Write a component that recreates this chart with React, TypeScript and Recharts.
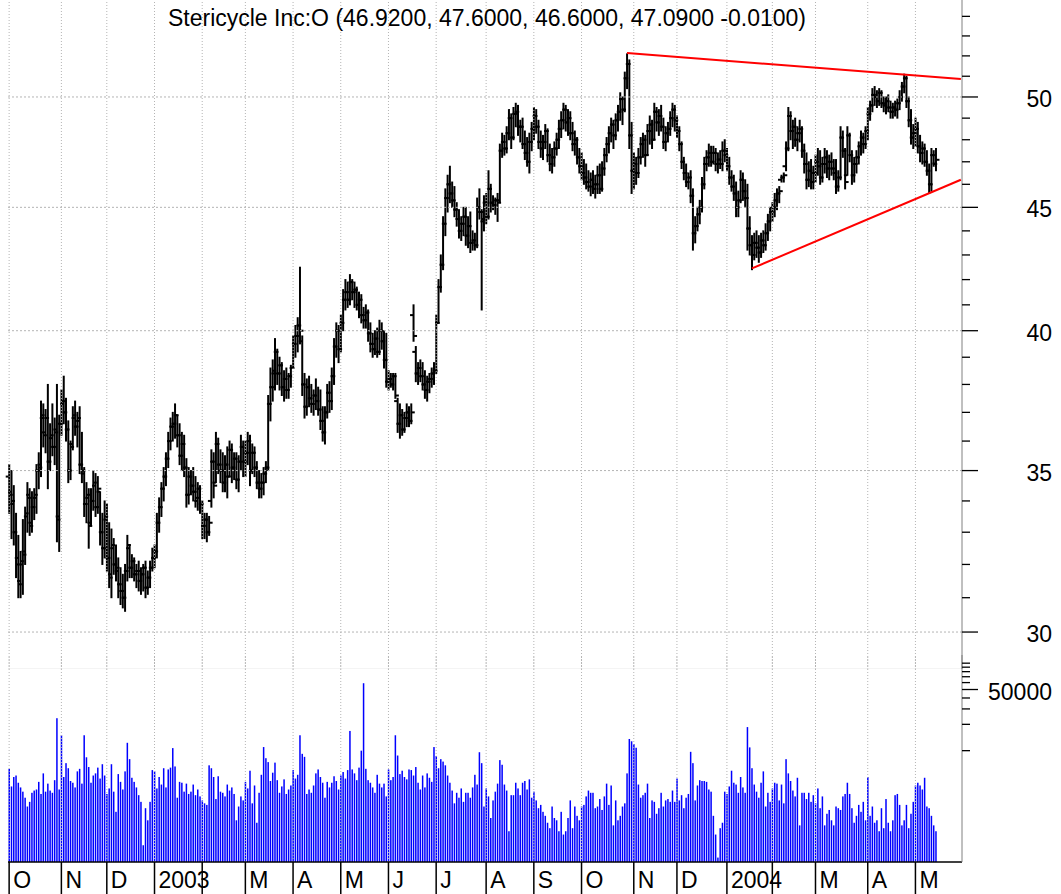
import React from "react";
import { ComposedChart, Bar, Line, XAxis, YAxis, ReferenceLine } from "recharts";

const FONT = '"Liberation Sans", Arial, Helvetica, sans-serif';

// index of the first trading day of every month, and the label under it
const monthStarts = [0, 23, 43, 64, 85, 104, 125, 146, 167, 188, 210, 231, 252, 275, 294, 316, 336, 355, 378, 399];
const monthLabels = ["O", "N", "D", "2003", "", "M", "A", "M", "J", "J", "A", "S", "O", "N", "D", "2004", "", "M", "A", "M"];

const priceTicks = [30, 31, 32, 33, 34, 35, 36, 37, 38, 39, 40, 41, 42, 43, 44, 45, 46, 47, 48, 49, 50, 51, 52, 53, 54];
const priceGrid = [30, 35, 40, 45, 50];
const volumeTicks = [10000, 20000, 30000, 40000, 50000, 60000, 70000, 80000, 90000, 100000];

// daily bars, Oct 2002 .. May 2004 (one line per month)
const opens = [
  34.8, 34.3, 33.9, 33.0, 32.2, 31.5, 32.0, 32.4, 33.5, 34.2, 33.3, 33.8, 34.1, 35.0, 35.2, 36.8, 36.3, 36.8, 35.3, 36.1, 35.8, 36.4, 33.5,
  36.6, 37.3, 37.0, 36.4, 35.0, 35.9, 36.8, 36.5, 36.7, 35.2, 34.9, 33.9, 34.1, 33.3, 34.0, 34.5, 33.8, 34.3, 33.0, 32.5,
  33.4, 32.2, 31.7, 32.5, 32.0, 31.8, 31.4, 31.2, 31.0, 31.8, 32.5, 31.9, 32.1, 31.7, 31.8, 31.5, 31.7, 31.9, 31.3, 31.6, 31.9,
  32.2, 32.4, 33.3, 33.8, 34.4, 34.8, 35.4, 36.0, 36.5, 36.6, 36.9, 36.2, 35.5, 35.9, 35.1, 34.2, 34.8, 34.5, 34.3, 34.0, 34.4,
  33.9, 33.2, 33.4, 33.0, 34.0, 35.3, 34.6, 35.9, 35.2, 35.0, 34.6, 35.2, 34.8, 35.7, 35.1, 35.4, 34.7, 35.3, 35.8,
  35.3, 35.6, 36.0, 35.0, 35.6, 35.1, 34.6, 34.4, 34.6, 34.9, 35.1, 37.3, 37.9, 38.4, 39.2, 38.4, 38.7, 37.9, 38.2, 37.8, 38.3,
  38.6, 39.5, 39.8, 40.2, 39.6, 38.0, 37.2, 37.9, 37.5, 37.3, 37.6, 37.4, 37.1, 36.7, 36.3, 37.0, 37.7, 37.4, 38.3, 39.4, 40.0,
  39.3, 40.3, 41.2, 41.5, 41.2, 41.9, 41.5, 41.6, 41.0, 41.2, 40.6, 40.4, 40.7, 39.9, 39.5, 39.3, 39.7, 39.2, 40.0, 39.6, 38.9,
  38.1, 38.2, 38.0, 38.3, 37.4, 36.6, 36.9, 36.4, 36.8, 37.0, 36.7, 40.6, 39.2, 38.4, 38.6, 38.3, 38.0, 37.8, 38.1, 38.2, 38.4,
  38.5, 40.3, 41.7, 42.6, 44.3, 45.4, 46.0, 45.6, 45.3, 44.9, 44.5, 44.0, 44.3, 44.6, 43.8, 44.2, 43.5, 43.6, 43.4, 45.0, 44.8, 44.4,
  45.2, 44.6, 45.8, 45.2, 45.1, 45.3, 45.3, 47.5, 47.9, 47.6, 48.3, 49.0, 48.1, 49.2, 49.3, 48.6, 48.6, 47.8, 47.4, 47.0, 47.9,
  48.5, 49.1, 48.6, 47.9, 47.6, 47.9, 48.4, 47.3, 46.9, 47.2, 47.6, 48.0, 48.5, 48.9, 49.4, 48.8, 49.0, 48.3, 47.8, 48.0, 47.2,
  46.8, 46.5, 46.3, 46.1, 45.9, 46.2, 45.8, 46.0, 46.4, 45.8, 46.7, 47.3, 47.8, 48.3, 48.7, 48.2, 48.9, 49.3, 49.9, 49.4, 50.9, 51.6, 48.2,
  46.6, 46.9, 46.5, 47.2, 47.8, 48.0, 47.3, 48.4, 48.7, 48.0, 49.3, 48.8, 49.1, 48.6, 47.9, 48.3, 48.5, 49.0, 49.4,
  48.9, 48.4, 47.8, 47.0, 46.5, 46.1, 46.3, 45.5, 43.9, 44.2, 44.7, 45.0, 46.0, 46.9, 47.2, 47.4, 47.0, 47.4, 46.9, 47.1, 46.9, 47.5,
  47.3, 46.8, 46.3, 45.9, 45.6, 45.0, 45.3, 46.2, 45.7, 45.4, 44.1, 43.4, 43.0, 43.5, 43.3, 43.1, 43.6, 43.4, 43.9, 44.4,
  44.8, 45.0, 45.3, 45.6, 46.2, 46.3, 46.8, 47.6, 49.1, 48.4, 48.6, 48.0, 48.3, 48.5, 47.5, 46.9, 46.2, 46.6, 46.1,
  46.5, 47.0, 46.8, 46.3, 46.9, 47.2, 46.7, 47.0, 46.7, 46.5, 45.9, 46.3, 48.1, 47.5, 46.4, 48.2, 47.3, 46.4, 46.9, 47.2, 47.7, 48.1, 47.8,
  48.4, 49.2, 49.6, 50.1, 50.0, 49.8, 50.2, 49.7, 49.6, 49.8, 49.5, 49.3, 49.5, 49.4, 49.7, 50.0, 50.5, 50.9, 49.8, 48.9, 48.1,
  48.3, 48.5, 47.7, 47.4, 47.6, 47.0, 46.6, 46.0, 47.3, 46.92,
];

const highs = [
  35.2, 35.0, 34.5, 33.6, 32.9, 32.4, 33.4, 33.8, 34.6, 34.4, 34.3, 34.4, 35.2, 35.6, 37.4, 37.3, 37.1, 38.0, 36.6, 37.3, 36.8, 38.0, 36.9,
  37.8, 38.3, 37.5, 36.7, 36.0, 37.2, 37.4, 37.0, 37.2, 36.3, 35.1, 34.6, 34.4, 34.4, 35.0, 34.9, 34.8, 34.3, 33.6, 34.0,
  33.9, 33.3, 33.1, 32.8, 32.6, 32.2, 31.9, 31.7, 32.0, 32.9, 32.6, 32.3, 32.2, 32.0, 32.1, 31.9, 32.0, 32.1, 31.8, 32.1, 32.5,
  32.6, 33.6, 34.1, 34.6, 35.1, 35.6, 36.3, 36.8, 37.0, 37.3, 36.9, 36.6, 36.3, 36.2, 35.4, 35.1, 35.0, 35.1, 34.8, 34.6, 34.5,
  34.0, 33.6, 33.6, 33.5, 35.7, 35.6, 36.3, 36.1, 35.7, 35.6, 35.5, 35.8, 36.0, 35.9, 35.6, 35.6, 35.5, 36.2, 36.0,
  36.0, 36.3, 36.2, 35.9, 35.8, 35.3, 35.0, 34.9, 35.1, 35.3, 37.6, 38.6, 38.9, 39.7, 39.3, 39.0, 38.8, 38.5, 38.6, 38.4, 38.7,
  39.8, 40.2, 40.5, 42.5, 39.8, 38.4, 38.2, 38.3, 38.0, 37.8, 38.2, 37.9, 37.8, 37.2, 37.2, 38.0, 38.1, 38.6, 39.7, 40.3, 40.2,
  40.6, 41.6, 42.0, 41.9, 42.2, 42.0, 41.9, 41.7, 41.5, 41.4, 40.9, 41.0, 40.8, 40.3, 39.9, 40.0, 40.1, 40.4, 40.3, 40.0, 39.9,
  38.5, 38.4, 38.4, 38.4, 37.5, 37.3, 37.1, 37.0, 37.3, 37.2, 37.3, 41.0, 39.4, 38.8, 38.9, 38.8, 38.5, 38.3, 38.4, 38.6, 38.8,
  40.6, 42.0, 43.0, 44.6, 45.8, 46.4, 46.8, 46.1, 45.9, 45.2, 44.9, 44.6, 45.0, 45.0, 44.6, 44.8, 44.0, 43.9, 45.4, 45.8, 44.9, 45.5,
  45.6, 46.6, 46.0, 45.5, 45.4, 45.6, 47.8, 48.3, 48.2, 48.6, 49.4, 49.2, 49.5, 49.7, 49.6, 48.9, 49.0, 48.4, 48.1, 48.3, 48.8,
  49.5, 49.4, 48.9, 48.4, 48.2, 48.7, 48.5, 47.8, 47.6, 47.9, 48.3, 48.9, 49.3, 49.7, 49.6, 49.4, 49.3, 48.8, 48.4, 48.1, 47.6,
  47.4, 47.1, 46.9, 46.6, 46.5, 46.6, 46.4, 46.8, 46.9, 47.0, 47.6, 48.1, 48.6, 49.0, 48.9, 49.2, 49.6, 50.2, 50.0, 51.2, 52.1, 51.8, 48.8,
  47.4, 47.2, 47.6, 48.1, 48.3, 48.2, 48.7, 49.1, 48.9, 49.7, 49.5, 49.4, 49.6, 49.0, 48.6, 48.8, 49.3, 49.7, 49.6,
  49.1, 48.6, 47.9, 47.2, 46.9, 46.5, 46.6, 45.8, 44.6, 45.0, 45.3, 46.3, 47.2, 47.5, 47.8, 47.7, 47.7, 47.6, 47.4, 47.5, 47.9, 48.0,
  47.6, 47.2, 46.6, 46.4, 46.1, 45.7, 46.6, 46.5, 46.2, 46.0, 44.6, 43.8, 43.9, 44.0, 43.8, 43.9, 44.0, 44.3, 44.7, 45.0,
  45.2, 45.6, 45.8, 45.9, 46.4, 46.5, 47.9, 49.5, 49.3, 48.9, 49.0, 48.6, 48.9, 48.6, 47.8, 47.4, 47.0, 47.1, 46.8,
  47.3, 47.6, 47.5, 47.2, 47.6, 47.5, 47.3, 47.4, 47.1, 47.1, 46.6, 48.6, 48.4, 47.6, 48.6, 48.3, 47.5, 47.2, 47.5, 47.9, 48.4, 48.3, 48.6,
  49.5, 49.8, 50.4, 50.5, 50.3, 50.4, 50.3, 50.0, 50.0, 50.1, 49.8, 49.7, 49.8, 49.9, 50.3, 50.7, 51.1, 51.0, 50.0, 49.4, 48.7,
  49.0, 48.8, 48.2, 47.9, 47.8, 47.5, 46.9, 47.6, 47.5, 47.6,
];

const lows = [
  33.6, 32.8, 32.6, 31.6, 31.0, 31.0, 31.1, 32.0, 33.0, 32.9, 33.0, 33.4, 33.6, 34.4, 34.8, 35.8, 35.6, 34.4, 35.0, 35.5, 35.2, 32.7, 32.4,
  36.2, 36.6, 36.0, 34.6, 34.7, 35.7, 36.2, 35.8, 34.9, 34.6, 33.5, 33.3, 32.5, 33.2, 33.7, 33.5, 33.6, 32.6, 32.0, 32.2,
  31.8, 31.3, 31.0, 31.7, 31.5, 31.0, 30.8, 30.7, 30.6, 31.5, 31.6, 31.6, 31.5, 31.3, 31.2, 31.1, 31.2, 31.0, 31.1, 31.3, 31.8,
  31.9, 32.2, 33.0, 33.5, 34.0, 34.5, 35.1, 35.7, 36.0, 36.1, 35.8, 35.2, 35.0, 34.8, 33.8, 33.9, 34.2, 34.0, 33.8, 33.7, 33.6,
  32.8, 32.8, 32.7, 32.9, 33.8, 34.1, 34.6, 34.9, 34.6, 34.3, 34.3, 34.1, 34.8, 34.6, 34.7, 34.4, 34.3, 35.0, 34.8,
  34.8, 35.2, 34.5, 34.9, 34.8, 34.4, 34.1, 34.1, 34.2, 34.6, 35.0, 36.7, 37.4, 37.8, 38.0, 37.8, 37.6, 37.4, 37.5, 37.5, 37.9,
  38.6, 39.0, 39.2, 39.5, 37.6, 36.8, 36.9, 37.2, 37.0, 36.9, 37.1, 36.9, 36.4, 36.0, 35.9, 36.8, 37.0, 37.1, 38.0, 39.0, 38.8,
  39.2, 40.0, 40.8, 40.9, 41.0, 41.2, 40.9, 40.8, 40.5, 40.3, 40.1, 40.1, 39.6, 39.2, 39.0, 39.1, 39.0, 39.1, 39.3, 38.6, 37.9,
  37.8, 37.9, 37.8, 37.5, 36.3, 36.1, 36.2, 36.3, 36.5, 36.5, 36.6, 39.6, 38.1, 38.0, 38.1, 37.8, 37.5, 37.4, 37.7, 37.9, 38.0,
  38.4, 40.3, 41.5, 42.4, 43.8, 44.8, 45.2, 45.0, 44.6, 44.2, 43.7, 43.6, 43.8, 43.4, 43.3, 43.1, 43.2, 43.2, 43.3, 44.5, 40.8, 44.0,
  44.3, 44.5, 44.8, 44.9, 44.7, 44.4, 45.2, 47.2, 47.3, 47.4, 48.0, 47.6, 48.0, 48.6, 48.2, 47.9, 47.6, 47.1, 46.8, 46.5, 47.5,
  48.0, 48.3, 47.6, 47.2, 47.1, 47.6, 47.0, 46.6, 46.5, 46.8, 47.3, 47.6, 48.1, 48.5, 48.4, 48.2, 48.0, 47.5, 47.3, 46.9, 46.5,
  46.2, 46.0, 45.8, 45.7, 45.5, 45.6, 45.4, 45.6, 45.6, 45.7, 46.4, 47.0, 47.4, 47.9, 47.6, 48.0, 48.4, 48.9, 48.7, 49.3, 50.4, 47.6, 45.6,
  45.8, 46.0, 46.3, 46.9, 47.2, 46.8, 47.3, 47.8, 47.6, 48.0, 48.4, 48.2, 48.4, 47.6, 47.5, 47.9, 48.2, 48.6, 48.4,
  48.1, 47.5, 46.7, 46.2, 45.9, 45.8, 45.2, 43.2, 43.5, 44.0, 44.3, 44.8, 45.8, 46.6, 46.8, 46.8, 46.9, 46.6, 46.5, 46.7, 46.6, 47.0,
  46.6, 46.0, 45.7, 45.3, 44.6, 44.6, 45.2, 45.3, 45.0, 43.2, 43.0, 42.4, 42.8, 42.9, 42.7, 42.9, 43.1, 43.2, 43.6, 44.0,
  44.4, 44.6, 44.9, 45.2, 46.1, 46.1, 46.6, 47.5, 48.0, 47.6, 47.7, 47.5, 47.9, 47.2, 46.5, 45.8, 45.9, 45.8, 45.8,
  46.1, 46.4, 46.0, 46.1, 46.5, 46.3, 46.2, 46.4, 46.2, 45.6, 45.7, 46.2, 47.2, 45.8, 46.4, 47.0, 46.0, 46.1, 46.5, 46.9, 47.3, 47.4, 47.6,
  48.0, 48.9, 49.3, 49.6, 49.5, 49.6, 49.5, 49.3, 49.2, 49.3, 49.0, 49.0, 49.1, 49.0, 49.4, 49.8, 50.2, 49.5, 48.6, 47.8, 47.6,
  47.7, 47.4, 47.0, 46.9, 46.8, 46.4, 45.6, 45.7, 46.8, 46.6,
];

const closes = [
  34.2, 34.0, 33.0, 32.0, 31.4, 32.1, 32.3, 33.6, 34.1, 33.2, 33.8, 34.2, 35.0, 35.1, 36.9, 36.2, 36.8, 35.3, 36.2, 35.8, 36.3, 33.4, 36.6,
  37.4, 37.0, 36.4, 35.0, 35.8, 36.9, 36.5, 36.8, 35.2, 35.0, 33.9, 34.2, 33.2, 34.0, 34.6, 33.8, 34.4, 33.0, 32.5, 33.5,
  32.2, 31.6, 32.6, 32.0, 31.9, 31.4, 31.2, 31.0, 31.8, 32.6, 31.9, 32.1, 31.7, 31.8, 31.5, 31.7, 31.9, 31.3, 31.6, 31.9, 32.2,
  32.4, 33.3, 33.8, 34.4, 34.8, 35.4, 36.0, 36.5, 36.6, 36.9, 36.2, 35.5, 35.9, 35.1, 34.2, 34.8, 34.5, 34.3, 34.1, 34.4, 33.9,
  33.2, 33.4, 33.0, 33.3, 35.3, 34.5, 35.9, 35.2, 35.0, 34.6, 35.2, 34.8, 35.7, 35.1, 35.4, 34.7, 35.3, 35.8, 35.3,
  35.6, 36.0, 35.0, 35.6, 35.1, 34.6, 34.4, 34.6, 34.9, 35.1, 37.3, 37.9, 38.5, 39.2, 38.4, 38.7, 37.9, 38.2, 37.8, 38.3, 38.6,
  39.5, 39.8, 40.2, 40.0, 38.0, 37.2, 37.9, 37.5, 37.3, 37.6, 37.4, 37.1, 36.7, 36.3, 37.0, 37.7, 37.4, 38.3, 39.4, 40.0, 39.3,
  40.3, 41.2, 41.5, 41.2, 41.9, 41.5, 41.6, 41.0, 41.2, 40.6, 40.4, 40.7, 39.9, 39.5, 39.3, 39.7, 39.2, 40.0, 39.6, 38.9, 38.1,
  38.2, 38.0, 38.3, 37.6, 36.6, 36.9, 36.4, 36.8, 37.0, 36.7, 37.0, 39.8, 38.4, 38.6, 38.3, 38.0, 37.8, 38.1, 38.2, 38.4, 38.5,
  40.3, 41.7, 42.6, 44.3, 45.4, 46.0, 45.6, 45.3, 44.9, 44.5, 44.0, 44.3, 44.6, 43.8, 44.2, 43.5, 43.6, 43.4, 45.0, 44.8, 44.5, 45.2,
  44.6, 45.8, 45.2, 45.1, 45.3, 45.2, 47.5, 47.9, 47.6, 48.3, 49.0, 48.1, 49.2, 49.3, 48.6, 48.6, 47.8, 47.4, 47.0, 47.9, 48.5,
  49.1, 48.6, 47.9, 47.6, 47.9, 48.4, 47.3, 46.9, 47.2, 47.6, 48.0, 48.5, 48.9, 49.4, 48.8, 49.0, 48.3, 47.8, 48.0, 47.2, 46.8,
  46.5, 46.3, 46.1, 45.9, 46.2, 45.8, 46.0, 46.4, 45.8, 46.7, 47.3, 47.8, 48.3, 48.7, 48.2, 48.9, 49.3, 49.9, 49.4, 50.9, 51.6, 48.2, 46.6,
  46.9, 46.5, 47.2, 47.8, 48.0, 47.3, 48.4, 48.7, 48.0, 49.3, 48.8, 49.1, 48.6, 47.9, 48.3, 48.5, 49.0, 49.4, 48.9,
  48.4, 47.8, 47.0, 46.5, 46.1, 46.3, 45.5, 43.9, 44.2, 44.7, 45.0, 46.0, 46.9, 47.2, 47.4, 47.0, 47.4, 46.9, 47.1, 46.9, 47.5, 47.3,
  46.8, 46.3, 45.9, 45.6, 45.0, 45.3, 46.2, 45.7, 45.4, 44.1, 43.4, 43.0, 43.5, 43.3, 43.1, 43.6, 43.4, 43.9, 44.4, 44.8,
  45.0, 45.3, 45.6, 45.7, 46.3, 46.4, 47.6, 49.1, 48.4, 48.6, 48.0, 48.3, 48.5, 47.5, 46.9, 46.2, 46.6, 46.1, 46.5,
  47.0, 46.8, 46.3, 46.9, 47.2, 46.7, 47.0, 46.7, 46.5, 45.9, 46.3, 48.1, 47.5, 46.1, 48.2, 47.3, 46.4, 46.9, 47.2, 47.7, 48.1, 47.8, 48.4,
  49.2, 49.6, 50.1, 50.0, 49.8, 50.2, 49.7, 49.6, 49.8, 49.5, 49.3, 49.5, 49.4, 49.7, 50.0, 50.5, 50.9, 49.8, 48.9, 48.1, 48.3,
  48.5, 47.7, 47.4, 47.6, 47.0, 46.6, 46.0, 47.3, 46.9, 47.09,
];

const volumes = [
  6200, 3900, 5000, 5200, 4300, 3800, 3400, 2900, 2300, 2600, 3300, 3500, 3600, 4400, 3200, 5500, 3400, 4200, 3500, 3300, 4600, 23500, 3600,
  15000, 5000, 7200, 6300, 4500, 4300, 3800, 5800, 6200, 4200, 15000, 8400, 6500, 4300, 5200, 5500, 6400, 4800, 7000, 5200,
  3200, 3700, 7000, 3400, 2000, 5400, 4400, 3600, 5800, 12300, 8000, 4900, 4400, 3800, 3100, 2600, 830, 2200, 1600, 2600, 6000,
  5800, 3700, 5000, 4100, 6300, 3800, 6100, 6400, 10700, 6600, 2900, 4400, 4300, 3400, 4200, 3200, 3400, 4100, 3100, 3600, 3000,
  2700, 2500, 2400, 6800, 6300, 5000, 2800, 5100, 3400, 3300, 3000, 4100, 3500, 3800, 3200, 1600, 2300, 3000, 2700,
  4400, 3700, 5900, 2500, 4000, 1500, 3300, 5300, 11000, 8200, 7400, 4500, 5600, 7300, 4600, 3300, 3900, 4700, 3200, 3600, 4000,
  6000, 4800, 5300, 15000, 9200, 8500, 3200, 3600, 3300, 4000, 5500, 6100, 5000, 4300, 2900, 4400, 3800, 4300, 5100, 4500, 3600,
  5200, 5700, 4800, 6000, 16800, 6100, 5500, 4600, 6400, 10000, 59000, 6200, 4600, 4300, 3800, 3300, 5300, 4200, 3800, 4200, 3000,
  6100, 4600, 5000, 15000, 8800, 5400, 5900, 5000, 4700, 6100, 6000, 5200, 6500, 4300, 3600, 5200, 3800, 5500, 4900, 4400, 11000,
  8700, 6300, 8000, 7500, 6800, 5200, 4300, 3500, 2500, 3300, 2900, 3700, 2600, 3300, 3300, 2900, 3800, 5300, 4100, 9600, 7200, 2300,
  3700, 3000, 1700, 2700, 3400, 4200, 7800, 6900, 4100, 3500, 1200, 3100, 3100, 4300, 3700, 3100, 4300, 4500, 3600, 4700, 2900,
  3400, 2700, 2200, 2400, 2000, 1800, 1500, 1300, 2300, 1700, 1600, 1200, 2000, 1100, 1200, 1700, 2700, 1300, 2300, 1800, 1600,
  2300, 2400, 3000, 3500, 3300, 3300, 2200, 2300, 2800, 2100, 3000, 4200, 2400, 4000, 1400, 2700, 1600, 1800, 2300, 2500, 5500, 13600, 12800,
  11900, 10800, 4100, 2900, 3100, 3300, 4200, 1700, 2700, 2600, 1900, 2200, 3300, 2300, 2700, 2800, 2600, 3500, 2600,
  4800, 2700, 3100, 2200, 2900, 3200, 9700, 7200, 2700, 4000, 4600, 4500, 4500, 4400, 3600, 3400, 1800, 1100, 600, 1300, 1500, 3400,
  3200, 3900, 5900, 4300, 4100, 3300, 5000, 3800, 3300, 18600, 10900, 6300, 4100, 3400, 2900, 4300, 5800, 2300, 3300, 2600,
  3700, 4300, 4200, 2700, 4100, 2500, 8000, 5500, 4500, 3500, 3000, 4900, 1400, 3300, 3300, 2800, 3300, 2600, 3100,
  2500, 3700, 2200, 3000, 1400, 1900, 2100, 1600, 1400, 2300, 2200, 2100, 3000, 3200, 4300, 3200, 2200, 1500, 1800, 2400, 2000, 2600, 1600,
  5000, 1800, 2300, 1500, 1600, 1200, 2200, 1300, 2800, 1500, 1200, 1600, 3100, 3200, 2400, 1400, 1600, 2400, 1300, 1900, 2600,
  4000, 4300, 4000, 3600, 4900, 2300, 2200, 1800, 1400, 1200,
];

// hand-drawn trend lines (bar index, price)
const resistance = [{ i: 272, value: 52.14 }, { i: 419, value: 50.86 }];
const support = [{ i: 327, value: 42.45 }, { i: 419, value: 46.2 }];

const SLOTS = 420;
const PRICE_DOMAIN = [28.96, 54.85];
const VOLUME_DOMAIN = [534, 124000];

const data: any[] = Array.from({ length: SLOTS }, (_, i) => {
  const row: any = { i };
  if (i < highs.length) {
    row.range = [lows[i], highs[i]];
    row.open = opens[i];
    row.high = highs[i];
    row.low = lows[i];
    row.close = closes[i];
    row.vol = [VOLUME_DOMAIN[0], volumes[i]];
  }
  return row;
});
resistance.forEach((p) => (data[p.i].resistance = p.value));
support.forEach((p) => (data[p.i].support = p.value));

const OhlcShape = (props: any) => {
  const { x, y, width, height, payload } = props;
  if (!payload || payload.high == null) return null;
  const top = Math.min(y, y + height);
  const h = Math.abs(height);
  const cx = x + width / 2;
  const lh = Math.log(payload.high);
  const ll = Math.log(payload.low);
  const at = (v: number) => (lh === ll ? top : top + ((lh - Math.log(v)) / (lh - ll)) * h);
  return (
    <g stroke="#000" strokeWidth={2}>
      <line x1={cx} x2={cx} y1={top - 0.5} y2={top + h + 0.5} />
      <line x1={cx - 3.5} x2={cx} y1={at(payload.open)} y2={at(payload.open)} />
      <line x1={cx} x2={cx + 3.5} y1={at(payload.close)} y2={at(payload.close)} />
    </g>
  );
};

const VolumeShape = (props: any) => {
  const { x, y, width, height } = props;
  if (!height) return null;
  const cx = x + width / 2;
  return <rect x={cx - 0.75} y={Math.min(y, y + height)} width={1.5} height={Math.abs(height)} fill="#0000ff" />;
};

const PriceTick = ({ x, y, payload }: any) => {
  const major = payload.value % 5 === 0;
  return (
    <g>
      <line x1={x} x2={x + (major ? 16 : 8)} y1={y} y2={y} stroke="#000" strokeWidth={1.3} />
      {major && (
        <text x={x + 90} y={y + 10} textAnchor="end" fontSize={23} fontFamily={FONT} fill="#000">
          {payload.value}
        </text>
      )}
    </g>
  );
};

const VolumeTick = ({ x, y, payload }: any) => {
  const major = payload.value === 50000;
  return (
    <g>
      <line x1={x} x2={x + (major ? 16 : 8)} y1={y} y2={y} stroke="#000" strokeWidth={1.3} />
      {major && (
        <text x={x + 90} y={y + 10} textAnchor="end" fontSize={23} fontFamily={FONT} fill="#000">
          {payload.value}
        </text>
      )}
    </g>
  );
};

const MonthTick = ({ x, y, payload }: any) => {
  const label = monthLabels[monthStarts.indexOf(payload.value)];
  return (
    <g>
      <line x1={x} x2={x} y1={y} y2={y + 32} stroke="#000" strokeWidth={1.5} />
      <text x={x + 4} y={y + 26} fontSize={23} fontFamily={FONT} fill="#000">
        {label}
      </text>
    </g>
  );
};

export default function App() {
  return (
    <div style={{ position: "absolute", left: 0, top: 0, width: 1061, height: 894, background: "#fff", fontFamily: FONT }}>
      <div style={{ position: "absolute", top: 0, left: 0 }}>
        <ComposedChart width={1061} height={669} data={data} margin={{ top: 0, right: 0, left: 8, bottom: 0 }}>
          <XAxis dataKey="i" type="category" hide />
          <YAxis
            orientation="right"
            type="number"
            scale="log"
            domain={PRICE_DOMAIN}
            allowDataOverflow
            ticks={priceTicks}
            interval={0}
            width={99}
            tickSize={0}
            tickMargin={0}
            tickLine={false}
            axisLine={{ stroke: "#808080" }}
            tick={(p: any) => <PriceTick {...p} />}
          />
          {priceGrid.map((v) => (
            <ReferenceLine key={"h" + v} y={v} stroke="#b4b4b4" strokeDasharray="2 2" />
          ))}
          {monthStarts.map((m) => (
            <ReferenceLine key={"v" + m} x={m} stroke="#b4b4b4" strokeDasharray="1 2" />
          ))}
          <ReferenceLine y={PRICE_DOMAIN[0]} stroke="#e8e8e8" />
          <Bar dataKey="range" shape={OhlcShape} isAnimationActive={false} />
          <Line dataKey="resistance" stroke="#ff0000" strokeWidth={2} dot={false} connectNulls isAnimationActive={false} />
          <Line dataKey="support" stroke="#ff0000" strokeWidth={2} dot={false} connectNulls isAnimationActive={false} />
        </ComposedChart>
      </div>
      <div style={{ position: "absolute", top: 655, left: 0 }}>
        <ComposedChart width={1061} height={239} data={data} margin={{ top: 0, right: 0, left: 8, bottom: 0 }}>
          <XAxis
            dataKey="i"
            type="category"
            ticks={monthStarts}
            interval={0}
            height={32}
            tickSize={0}
            tickMargin={0}
            tickLine={false}
            axisLine={{ stroke: "#000", strokeWidth: 1.5 }}
            tick={(p: any) => <MonthTick {...p} />}
          />
          <YAxis
            orientation="right"
            type="number"
            scale="log"
            domain={VOLUME_DOMAIN}
            allowDataOverflow
            ticks={volumeTicks}
            interval={0}
            width={99}
            tickSize={0}
            tickMargin={0}
            tickLine={false}
            axisLine={{ stroke: "#808080" }}
            tick={(p: any) => <VolumeTick {...p} />}
          />
          {monthStarts.map((m) => (
            <ReferenceLine key={"vv" + m} x={m} stroke="#b4b4b4" strokeDasharray="1 2" />
          ))}
          <Bar dataKey="vol" shape={VolumeShape} isAnimationActive={false} />
        </ComposedChart>
      </div>
      <div
        style={{
          position: "absolute",
          top: 7,
          left: 0,
          width: 974,
          textAlign: "center",
          fontSize: 23,
          lineHeight: "23px",
          color: "#000",
          whiteSpace: "nowrap",
        }}
      >
        Stericycle Inc:O (46.9200, 47.6000, 46.6000, 47.0900 -0.0100)
      </div>
    </div>
  );
}
